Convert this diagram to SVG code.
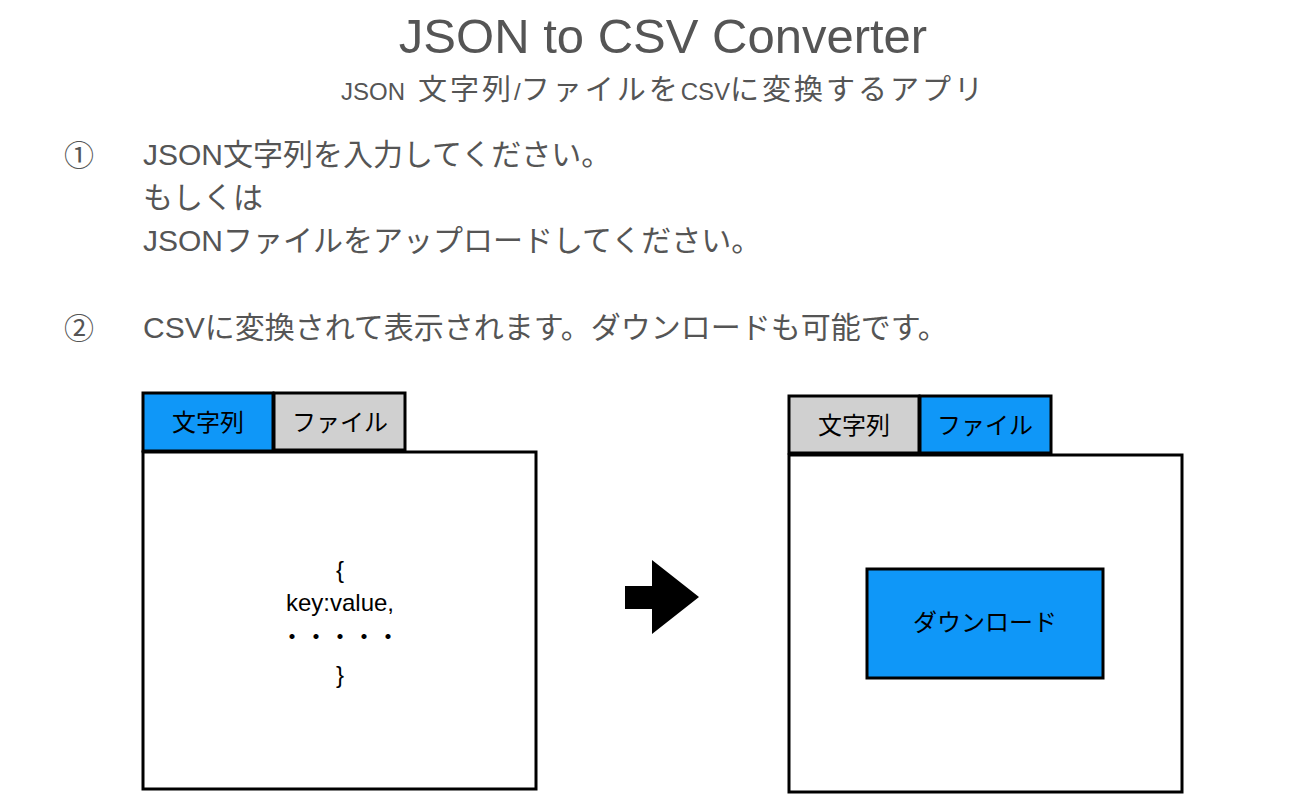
<svg xmlns="http://www.w3.org/2000/svg" width="1310" height="809" viewBox="0 0 1310 809">
<style>
.hd{font-family:"Liberation Sans","Noto Sans CJK JP",sans-serif;fill:#555555}
.st{font-size:30px}
.la{font-size:24px}
.cj{font-size:29px;letter-spacing:3px}
.lb{font-family:"Liberation Sans","Noto Sans CJK JP",sans-serif;fill:#000000;font-size:24px}
.box{stroke:#000;stroke-width:3}
.blue{fill:#0f97f8}
.gray{fill:#d0d0d0}
.white{fill:#ffffff}
</style>
<rect width="1310" height="809" fill="#ffffff"/>
<g id="title">
<text class="hd" x="663" y="53" font-size="49" text-anchor="middle">JSON to CSV Converter</text>
<text class="hd" x="341" y="100"><tspan class="la">JSON</tspan><tspan class="cj" x="418">文字列</tspan><tspan class="la">/</tspan><tspan class="cj">ファイルを</tspan><tspan class="la">CSV</tspan><tspan class="cj">に変換するアプリ</tspan></text>
</g>
<g id="step1">
<text class="hd st" x="64" y="166">①</text>
<text class="hd st" x="143" y="165">JSON文字列を入力してください。</text>
<text class="hd st" x="143" y="208">もしくは</text>
<text class="hd st" x="143" y="251">JSONファイルをアップロードしてください。</text>
</g>
<g id="step2">
<text class="hd st" x="64" y="339">②</text>
<text class="hd st" x="143" y="338">CSVに変換されて表示されます。ダウンロードも可能です。</text>
</g>
<g id="left-panel">
<rect class="box blue" x="143" y="393" width="130" height="58"/>
<text class="lb" x="208" y="431" text-anchor="middle">文字列</text>
<rect class="box gray" x="274" y="393" width="131" height="57"/>
<text class="lb" x="340" y="431" text-anchor="middle">ファイル</text>
<rect class="box white" x="143" y="452" width="393" height="337"/>
<text class="lb" x="340" y="578" text-anchor="middle">{</text>
<text class="lb" x="340" y="611" font-size="25" text-anchor="middle">key:value,</text>
<text class="lb" x="340" y="645" text-anchor="middle">・・・・・</text>
<text class="lb" x="340" y="683" text-anchor="middle">}</text>
</g>
<g id="connectors">
<polygon points="625,586 652,586 652,560 699,597 652,634 652,609 625,609" fill="#000000"/>
</g>
<g id="right-panel">
<rect class="box gray" x="789" y="396" width="130" height="57"/>
<text class="lb" x="854" y="434" text-anchor="middle">文字列</text>
<rect class="box blue" x="920" y="396" width="131" height="57"/>
<text class="lb" x="985" y="434" text-anchor="middle">ファイル</text>
<rect class="box white" x="789" y="455" width="393" height="337"/>
<g id="download-button">
<rect class="box blue" x="867" y="569" width="236" height="109"/>
<text class="lb" x="985" y="631" text-anchor="middle">ダウンロード</text>
</g>
</g>
</svg>
